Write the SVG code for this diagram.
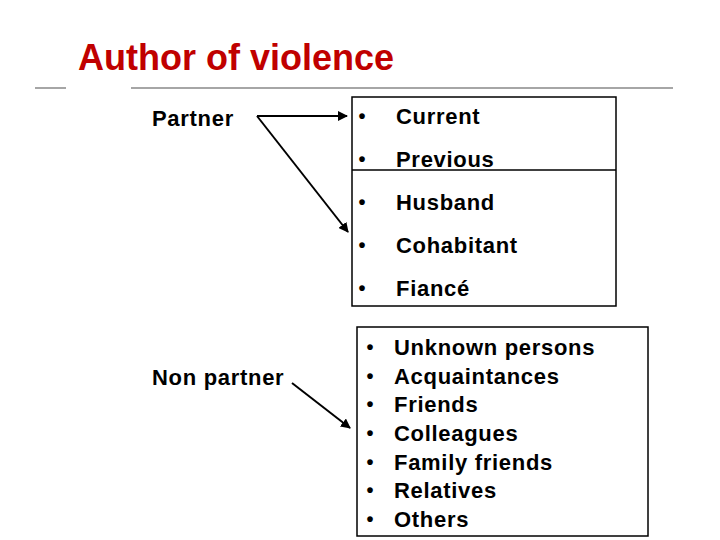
<svg xmlns="http://www.w3.org/2000/svg" width="720" height="540" viewBox="0 0 720 540">
<defs>
<marker id="ah" viewBox="0 0 10 10" refX="9" refY="5" markerWidth="5" markerHeight="5" markerUnits="strokeWidth" orient="auto">
<path d="M0,0 L10,5 L0,10 z" fill="#000"/>
</marker>
<style>
.t{font-family:"Liberation Sans",Arial,sans-serif;font-size:22px;font-weight:bold;fill:#000;letter-spacing:0.7px}
.b{font-family:"Liberation Sans",Arial,sans-serif;font-size:20px;font-weight:bold;fill:#000;text-anchor:middle}
.box{fill:none;stroke:#000;stroke-width:1.5}
.rule{stroke:#888;stroke-width:1.5}
.c{stroke:#000;stroke-width:2;fill:none;marker-end:url(#ah)}
</style>
</defs>
<rect width="720" height="540" fill="#fff"/>
<text x="78" y="70" font-family="'Liberation Sans',Arial,sans-serif" font-size="36" font-weight="bold" fill="#C00000">Author of violence</text>
<line class="rule" x1="35" y1="88" x2="66" y2="88"/>
<line class="rule" x1="131" y1="88" x2="673" y2="88"/>
<g id="partner"><text class="t" x="152" y="126">Partner</text></g>
<g id="nonpartner"><text class="t" x="152" y="385">Non partner</text></g>
<g id="partner-list">
<rect class="box" x="352" y="97" width="264" height="209"/>
<line stroke="#000" stroke-width="1.5" x1="352" y1="170" x2="616" y2="170"/>
<text class="b" x="362" y="123">•</text><text class="t" x="396" y="124">Current</text>
<text class="b" x="362" y="166">•</text><text class="t" x="396" y="167">Previous</text>
<text class="b" x="362" y="209">•</text><text class="t" x="396" y="210">Husband</text>
<text class="b" x="362" y="252">•</text><text class="t" x="396" y="253">Cohabitant</text>
<text class="b" x="362" y="295">•</text><text class="t" x="396" y="296">Fiancé</text>
</g>
<g id="nonpartner-list">
<rect class="box" x="357" y="327" width="291" height="209"/>
<text class="b" x="370" y="354">•</text><text class="t" x="394" y="355">Unknown persons</text>
<text class="b" x="370" y="383">•</text><text class="t" x="394" y="384">Acquaintances</text>
<text class="b" x="370" y="411">•</text><text class="t" x="394" y="412">Friends</text>
<text class="b" x="370" y="440">•</text><text class="t" x="394" y="441">Colleagues</text>
<text class="b" x="370" y="469">•</text><text class="t" x="394" y="470">Family friends</text>
<text class="b" x="370" y="497">•</text><text class="t" x="394" y="498">Relatives</text>
<text class="b" x="370" y="526">•</text><text class="t" x="394" y="527">Others</text>
</g>
<g id="connectors">
<line class="c" x1="257" y1="116" x2="347" y2="116"/>
<line class="c" x1="257" y1="116" x2="348" y2="232"/>
<line class="c" x1="292" y1="383" x2="350" y2="428"/>
</g>
</svg>
